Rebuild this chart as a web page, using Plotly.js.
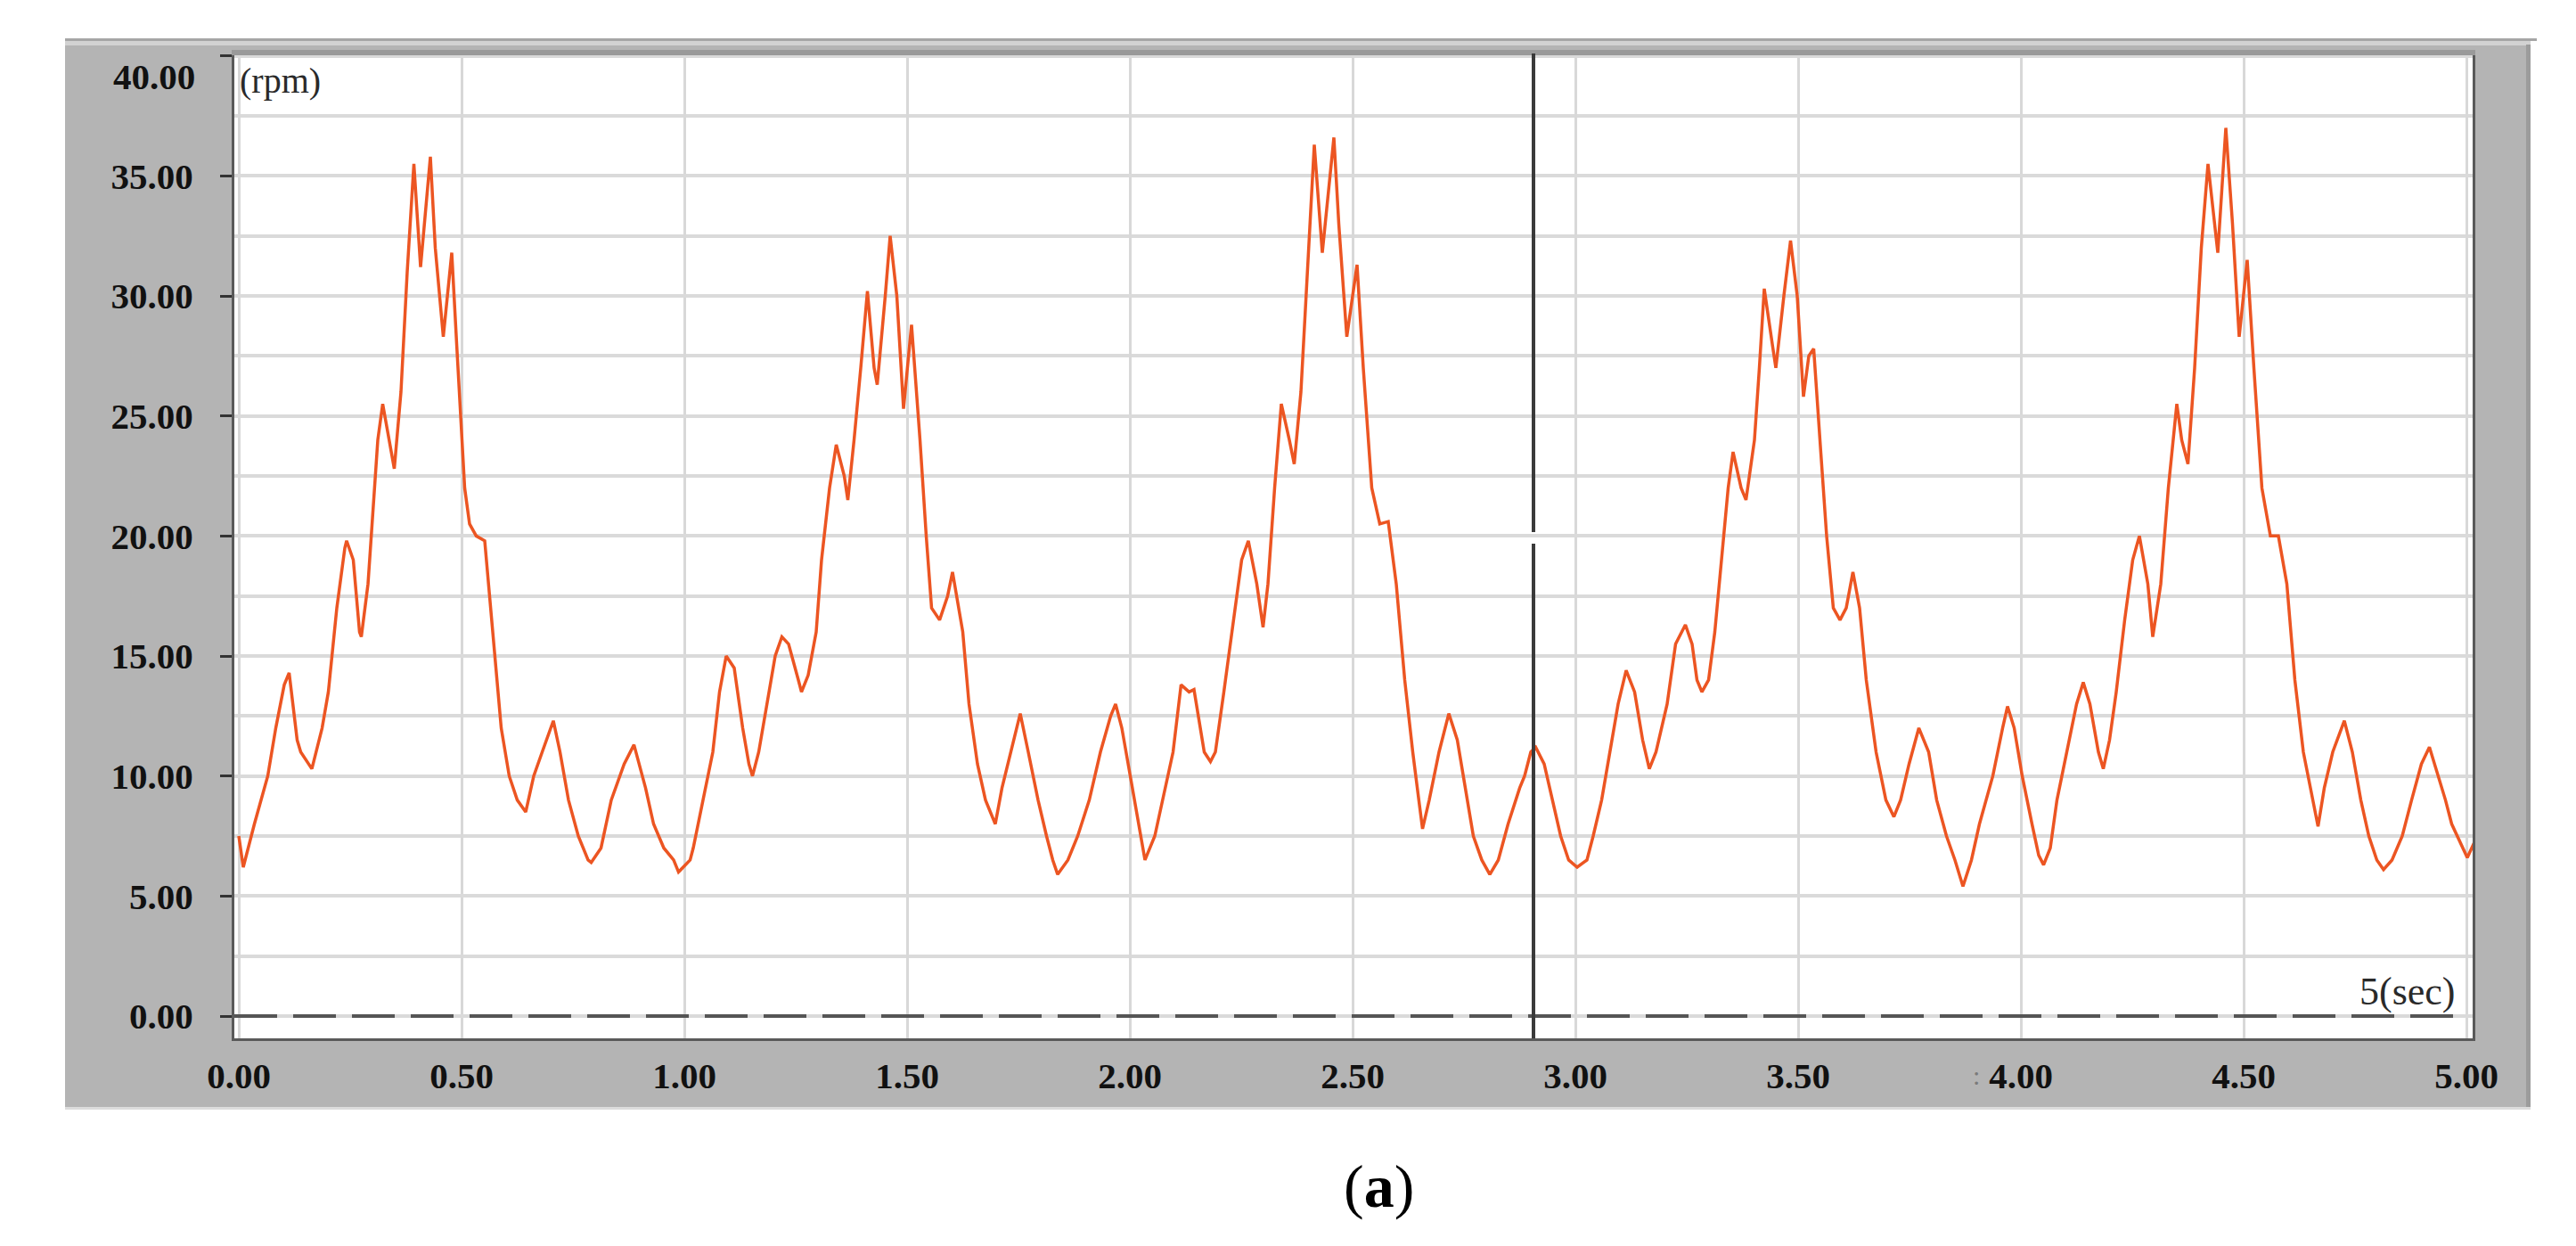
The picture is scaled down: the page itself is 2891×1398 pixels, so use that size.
<!DOCTYPE html>
<html>
<head>
<meta charset="utf-8">
<script src="https://cdn.plot.ly/plotly-3.0.1.min.js"></script>
<style>
html,body{margin:0;padding:0;background:#ffffff;}
#chart{width:2891px;height:1398px;}
</style>
</head>
<body>
<div id="chart"></div>
<script>
// ---- data ----
const timeSec = [0.000,0.010,0.035,0.065,0.083,0.102,0.113,0.131,0.139,0.157,0.164,0.187,0.201,0.220,0.238,0.242,0.257,0.271,0.275,0.290,0.301,0.312,0.323,0.338,0.349,0.364,0.378,0.393,0.408,0.430,0.441,0.459,0.478,0.489,0.507,0.518,0.533,0.552,0.570,0.589,0.607,0.625,0.644,0.662,0.681,0.706,0.721,0.740,0.762,0.784,0.791,0.813,0.836,0.865,0.887,0.906,0.913,0.931,0.954,0.976,0.987,1.013,1.020,1.042,1.064,1.079,1.094,1.112,1.131,1.145,1.153,1.167,1.186,1.204,1.219,1.234,1.256,1.263,1.278,1.296,1.308,1.326,1.341,1.359,1.367,1.381,1.396,1.411,1.426,1.433,1.451,1.462,1.477,1.492,1.510,1.529,1.543,1.555,1.573,1.591,1.602,1.625,1.639,1.658,1.676,1.698,1.713,1.732,1.754,1.772,1.794,1.813,1.827,1.838,1.861,1.883,1.909,1.934,1.957,1.968,1.982,2.001,2.019,2.034,2.056,2.074,2.097,2.115,2.133,2.144,2.167,2.181,2.192,2.211,2.229,2.251,2.266,2.285,2.299,2.310,2.325,2.340,2.358,2.369,2.384,2.399,2.414,2.432,2.458,2.469,2.487,2.510,2.524,2.543,2.561,2.580,2.598,2.617,2.635,2.650,2.657,2.672,2.694,2.716,2.735,2.753,2.771,2.790,2.808,2.827,2.849,2.875,2.886,2.900,2.911,2.930,2.948,2.967,2.985,3.004,3.026,3.040,3.059,3.077,3.096,3.114,3.133,3.151,3.166,3.181,3.206,3.225,3.247,3.262,3.273,3.284,3.299,3.313,3.328,3.343,3.354,3.372,3.383,3.402,3.413,3.424,3.442,3.450,3.468,3.483,3.498,3.512,3.524,3.535,3.549,3.564,3.579,3.594,3.608,3.623,3.638,3.653,3.675,3.697,3.715,3.730,3.749,3.771,3.793,3.811,3.833,3.852,3.870,3.889,3.907,3.937,3.959,3.970,3.985,4.003,4.025,4.040,4.051,4.066,4.081,4.103,4.125,4.140,4.155,4.174,4.185,4.199,4.214,4.233,4.251,4.266,4.285,4.296,4.314,4.331,4.350,4.361,4.375,4.390,4.405,4.420,4.442,4.460,4.475,4.490,4.508,4.523,4.541,4.560,4.578,4.597,4.615,4.634,4.656,4.667,4.681,4.700,4.726,4.744,4.763,4.781,4.799,4.814,4.833,4.856,4.877,4.899,4.917,4.936,4.953,4.967,4.991,5.002,5.017];

const speedRpm = [7.5,6.2,8,10,12,13.8,14.3,11.5,11,10.5,10.3,12,13.5,17,19.5,19.8,19,16,15.8,18,21,24,25.5,24,22.8,26,31,35.5,31.2,35.8,32,28.3,31.8,28,22,20.5,20,19.8,16,12,10,9,8.5,10,11,12.3,11,9,7.5,6.5,6.4,7,9,10.5,11.3,10,9.5,8,7,6.5,6.0,6.5,7,9,11,13.5,15,14.5,12,10.5,10,11,13,15,15.8,15.5,14,13.5,14.2,16,19,22,23.8,22.5,21.5,24,27,30.2,27,26.3,30,32.5,30,25.3,28.8,24,20,17,16.5,17.5,18.5,16,13,10.5,9,8.0,9.5,11,12.6,11,9,7.5,6.5,5.9,6.5,7.5,9,11,12.5,13,12,10,8,6.5,7.5,9,11,13.8,13.5,13.6,11,10.6,11,13.5,16,19,19.8,18,16.2,18,22,25.5,24,23,26,31,36.3,31.8,36.6,33,28.3,31.3,27,22,20.5,20.6,18,14,11,8.8,7.8,9,11,12.6,11.5,9.5,7.5,6.5,5.9,6.5,8,9.5,10,11,11.2,10.5,9,7.5,6.5,6.2,6.5,7.5,9,11,13,14.4,13.5,11.5,10.3,11,13,15.5,16.3,15.5,14,13.5,14,16,19,22,23.5,22,21.5,24,27,30.3,28,27,30,32.3,30,25.8,27.5,27.8,24,20,17,16.5,17,18.5,17,14,11,9,8.3,9,10.5,12,11,9,7.5,6.5,5.4,6.5,8,10,12,12.9,12,10,8,6.7,6.3,7,9,11,13,13.9,13,11,10.3,11.5,13.5,16.5,19,20,18,15.8,18,22,25.5,24,23,27,32,35.5,31.8,37,33,28.3,31.5,27,22,20,20,18,14,11,9,7.9,9.5,11,12.3,11,9,7.5,6.5,6.1,6.5,7.5,9,10.5,11.2,10,9,8,7,6.6,7.2];

const xTickVals = [0,0.5,1,1.5,2,2.5,3,3.5,4,4.5,5];
const xTickText = ['0.00','0.50','1.00','1.50','2.00','2.50','3.00','3.50','4.00','4.50','5.00'];
const yTickVals = [0,5,10,15,20,25,30,35,40];
const yTickText = ['0.00','5.00','10.00','15.00','20.00','25.00','30.00','35.00','40.00'];
const yGridVals = [2.5,7.5,12.5,17.5,22.5,27.5,32.5,37.5];
const cursorTime = 2.906;
const cursorGap = [19.68, 20.16];
const baselineValue = 0;
const yUnitText = '(rpm)';
const xUnitText = '5(sec)';
const captionText = '(<b>a</b>)';

// ---- frame geometry (pixels) ----
const L = 263, R = 2775, T = 60, B = 1165;
const PW = R - L, PH = B - T;
const px = v => (v - L) / PW;
const py = v => (B - v) / PH;
const xRange = [-0.01, 5.014];
const yRange = [-0.928, 40.10];

const serif = 'Liberation Serif, Times New Roman, serif';
const tickFont = {family: serif, size: 41, color: '#111111', weight: 'bold'};

const trace = {
  type: 'scatter', mode: 'lines',
  x: timeSec, y: speedRpm,
  line: {color: '#ec5522', width: 3.5},
  hoverinfo: 'skip'
};

const shapes = [
  // gray frame
  {type:'rect', xref:'paper', yref:'paper', x0:px(73), x1:px(2840), y0:py(1242), y1:py(43), fillcolor:'#b4b4b4', line:{width:0}, layer:'below'},
  {type:'rect', xref:'paper', yref:'paper', x0:px(73), x1:px(2847), y0:py(46), y1:py(43), fillcolor:'#a6a6a6', line:{width:0}, layer:'below'},
  {type:'rect', xref:'paper', yref:'paper', x0:px(73), x1:px(2840), y0:py(51), y1:py(46), fillcolor:'#d2d2d2', line:{width:0}, layer:'below'},
  {type:'rect', xref:'paper', yref:'paper', x0:px(2835), x1:px(2840), y0:py(1242), y1:py(50), fillcolor:'#9c9c9c', line:{width:0}, layer:'below'},
  {type:'rect', xref:'paper', yref:'paper', x0:px(73), x1:px(2840), y0:py(1245), y1:py(1242), fillcolor:'#dcdcdc', line:{width:0}, layer:'below'},
  // white plotting area
  {type:'rect', xref:'paper', yref:'paper', x0:0, x1:1, y0:0, y1:1, fillcolor:'#ffffff', line:{width:0}, layer:'below'},
  // top dark band
  {type:'rect', xref:'paper', yref:'paper', x0:px(260), x1:px(2778), y0:py(62), y1:py(56), fillcolor:'#9a9a9a', line:{width:0}, layer:'above'},
  // zero reference dashed line
  {type:'line', xref:'paper', yref:'y', x0:0, x1:0.995, y0:baselineValue, y1:baselineValue, line:{color:'#555555', width:4, dash:'48px,18px'}, layer:'above'},
  // cursor line (two parts with a small gap)
  {type:'line', xref:'x', yref:'y', x0:cursorTime, x1:cursorTime, y0:cursorGap[1], y1:yRange[1], line:{color:'#3a3a3a', width:4}, layer:'above'},
  {type:'line', xref:'x', yref:'y', x0:cursorTime, x1:cursorTime, y0:yRange[0], y1:cursorGap[0], line:{color:'#3a3a3a', width:4}, layer:'above'}
];

const lastY = yTickText.length - 1;
const annotations = [
  {xref:'paper', yref:'paper', x:px(267), y:py(90), xanchor:'left', yanchor:'middle', showarrow:false, text:yUnitText, font:{family:serif, size:40, color:'#2a2a2a'}},
  {xref:'paper', yref:'paper', x:px(2758), y:py(1112), xanchor:'right', yanchor:'middle', showarrow:false, text:xUnitText, font:{family:serif, size:44, color:'#2a2a2a'}},
  {xref:'paper', yref:'paper', x:px(1547), y:py(1331), xanchor:'center', yanchor:'middle', showarrow:false, text:captionText, font:{family:serif, size:68, color:'#000000'}},
  {xref:'x', yref:'paper', x:3.90, y:py(1206), xanchor:'center', yanchor:'middle', showarrow:false, text:':', font:{family:serif, size:30, color:'#7a7a7a'}},
  // top y label sits a little below its tick, as in the original software
  {xref:'paper', yref:'paper', x:px(221), y:py(86), xanchor:'right', yanchor:'middle', showarrow:false, text:yTickText[lastY], font:tickFont}
];

const layout = {
  width: 2891, height: 1398,
  margin: {l: L, r: 2891 - R, t: T, b: 1398 - B, pad: 0},
  paper_bgcolor: '#ffffff', plot_bgcolor: '#ffffff',
  showlegend: false,
  xaxis: {
    range: xRange, tickmode: 'array', tickvals: xTickVals, ticktext: xTickText,
    ticks: '', showgrid: true, gridcolor: '#d8d8d8', gridwidth: 3,
    zeroline: false, showline: true, mirror: false, linecolor: '#5a5a5a', linewidth: 3,
    tickfont: tickFont, ticklabelstandoff: 4, fixedrange: true
  },
  yaxis: {
    range: yRange, tickmode: 'array', tickvals: yTickVals,
    ticktext: yTickText.map((t, i) => i === lastY ? '' : t),
    ticks: 'outside', ticklen: 13, tickwidth: 3, tickcolor: '#333333',
    showgrid: true, gridcolor: '#dadada', gridwidth: 4,
    minor: {tickmode: 'array', tickvals: yGridVals, showgrid: true, gridcolor: '#dadada', gridwidth: 4, ticks: ''},
    zeroline: false, showline: true, mirror: true, linecolor: '#5a5a5a', linewidth: 3,
    tickfont: tickFont, ticklabelstandoff: 22, fixedrange: true
  },
  shapes: shapes,
  annotations: annotations
};

if (timeSec.length !== speedRpm.length) { console.error('length mismatch', timeSec.length, speedRpm.length); }

Plotly.newPlot('chart', [trace], layout, {displayModeBar: false, staticPlot: true});
</script>
</body>
</html>
